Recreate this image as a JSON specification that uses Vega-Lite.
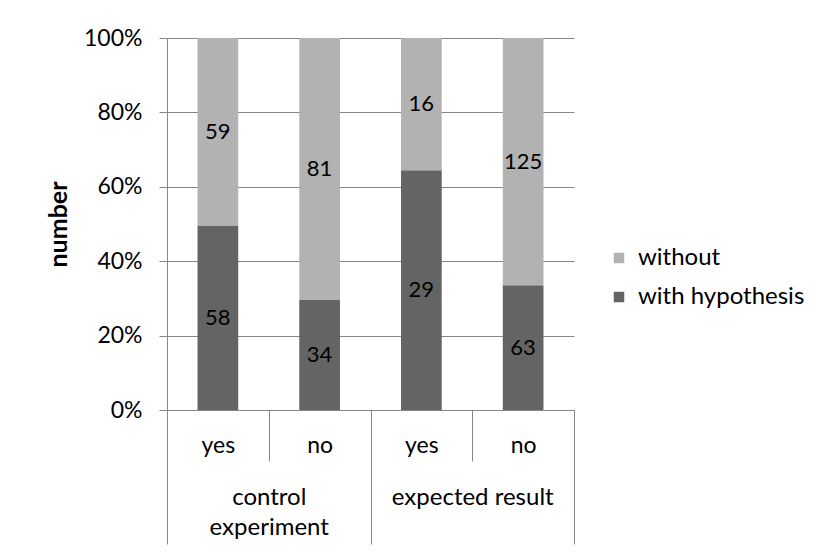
{
  "$schema": "https://vega.github.io/schema/vega-lite/v6.json",
  "width": 407,
  "height": 372,
  "autosize": {"type": "none"},
  "padding": {"left": 167, "top": 38, "right": 249, "bottom": 145},
  "config": {
    "font": "Lato",
    "view": {"stroke": null},
    "axis": {"labelColor": "#000000", "titleColor": "#000000", "labelFont": "Lato", "titleFont": "Lato"}
  },
  "data": {
    "values": [
      {"group": "control experiment", "answer": "yes", "series": "with hypothesis", "count": 58},
      {"group": "control experiment", "answer": "yes", "series": "without", "count": 59},
      {"group": "control experiment", "answer": "no", "series": "with hypothesis", "count": 34},
      {"group": "control experiment", "answer": "no", "series": "without", "count": 81},
      {"group": "expected result", "answer": "yes", "series": "with hypothesis", "count": 29},
      {"group": "expected result", "answer": "yes", "series": "without", "count": 16},
      {"group": "expected result", "answer": "no", "series": "with hypothesis", "count": 63},
      {"group": "expected result", "answer": "no", "series": "without", "count": 125}
    ]
  },
  "transform": [{"calculate": "datum.group + '|' + datum.answer", "as": "key"}],
  "layer": [
    {
      "layer": [
        {
          "mark": {"type": "bar", "width": {"band": 0.4}},
          "encoding": {
            "x": {
              "field": "key", "type": "nominal", "sort": null,
              "scale": {"paddingInner": 0, "paddingOuter": 0},
              "axis": {
                "orient": "bottom", "title": null,
                "labelExpr": "split(datum.value, '|')[1]",
                "labelAngle": 0, "labelFontSize": 23, "labelBaseline": "middle",
                "tickBand": "extent", "tickSize": 51, "tickColor": "#868686",
                "domainColor": "#868686", "labelPadding": -16, "grid": false
              }
            },
            "y": {
              "field": "count", "type": "quantitative", "stack": "normalize",
              "scale": {"domain": [0, 1]},
              "axis": {
                "title": "number", "titleFontSize": 25, "titleFontWeight": "bold",
                "titlePadding": 12, "format": ".0%", "values": [0, 0.2, 0.4, 0.6, 0.8, 1],
                "labelFontSize": 23, "labelPadding": 17, "tickSize": 8,
                "tickColor": "#868686", "domainColor": "#868686",
                "grid": true, "gridColor": "#868686", "gridWidth": 1
              }
            },
            "color": {
              "field": "series", "type": "nominal",
              "scale": {"domain": ["without", "with hypothesis"], "range": ["#b2b2b2", "#646464"]},
              "legend": {
                "title": null, "orient": "none", "legendX": 440, "legendY": 208,
                "symbolType": "square", "symbolSize": 110, "symbolStrokeWidth": 0,
                "labelFontSize": 24, "labelColor": "#000000", "labelFont": "Lato",
                "labelLimit": 400, "rowPadding": 15, "labelOffset": 7
              }
            },
            "order": {"field": "series", "sort": "ascending"}
          }
        },
        {
          "mark": {"type": "text", "fontSize": 22, "color": "#000000", "baseline": "middle"},
          "encoding": {
            "x": {"field": "key", "type": "nominal", "sort": null},
            "y": {"field": "count", "type": "quantitative", "stack": "normalize", "bandPosition": 0.5},
            "text": {"field": "count", "type": "quantitative"},
            "order": {"field": "series", "sort": "ascending"},
            "detail": {"field": "series"}
          }
        }
      ]
    },
    {
      "mark": {"type": "text", "text": "", "opacity": 0},
      "encoding": {
        "x": {
          "field": "group", "type": "nominal",
          "scale": {"paddingInner": 0, "paddingOuter": 0},
          "axis": {
            "orient": "bottom", "title": null, "domain": false,
            "labelAngle": 0, "labelFontSize": 24, "labelBaseline": "top",
            "labelExpr": "datum.value == 'control experiment' ? ['control', 'experiment'] : datum.value",
            "labelLineHeight": 30,
            "tickBand": "extent", "tickSize": 134, "tickColor": "#868686",
            "labelPadding": -59, "grid": false
          }
        }
      }
    }
  ],
  "resolve": {"scale": {"x": "independent"}, "axis": {"x": "independent"}}
}
